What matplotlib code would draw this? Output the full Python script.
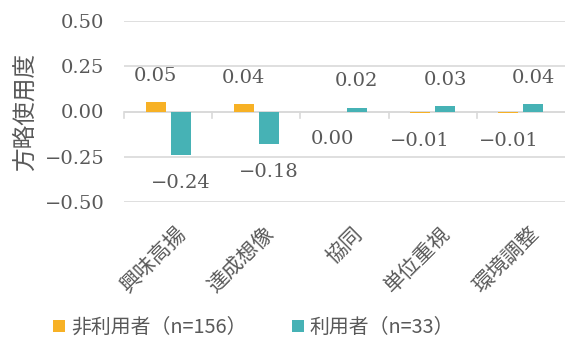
import matplotlib
matplotlib.use("Agg")
import matplotlib.pyplot as plt
import matplotlib.transforms as mtransforms
import numpy as np

plt.rcParams['font.family'] = ['Noto Sans CJK JP', 'DejaVu Sans']

categories = ["興味高揚", "達成想像", "協同", "単位重視", "環境調整"]
non_users = [0.05, 0.04, 0.00, -0.01, -0.01]
users = [-0.24, -0.18, 0.02, 0.03, 0.04]
series_names = ["非利用者（n=156）", "利用者（n=33）"]
y_ticks = [-0.50, -0.25, 0.00, 0.25, 0.50]

orange = "#F7B125"
teal = "#46B2B5"
text_col = "#595959"
grid_col = "#D9D9D9"
num_font = ["DejaVu Serif"]

fig = plt.figure(figsize=(5.66, 3.42), dpi=100)
ax = fig.add_axes([124 / 566, 1 - 202 / 342, 441 / 566, 181 / 342])

x = np.arange(len(categories))
w = 0.227
gap = 0.055
b1 = ax.bar(x - w / 2 - gap / 2, non_users, w, color=orange, label=series_names[0], zorder=3)
b2 = ax.bar(x + w / 2 + gap / 2, users, w, color=teal, label=series_names[1], zorder=3)

def fmt(v):
    s = f"{abs(v):.2f}"
    return ("\u2212" + s) if v < 0 else s

for bars, vals in ((b1, non_users), (b2, users)):
    for rect, v in zip(bars, vals):
        cx = rect.get_x() + rect.get_width() / 2
        off = 19 if v > 0 else -20
        ax.annotate(fmt(v), (cx, v), xytext=(0, off), textcoords="offset points",
                    ha="center", va="center", fontsize=14, color=text_col,
                    family=num_font)

ax.set_xlim(-0.5, len(categories) - 0.5)
ax.set_ylim(-0.5, 0.5)
ax.set_yticks(y_ticks)
ax.set_yticklabels([fmt(t) for t in y_ticks], fontsize=14, color=text_col,
                   family=num_font)
ax.tick_params(axis="y", length=0, pad=14)
ax.grid(axis="y", color=grid_col, linewidth=1.2, zorder=0)
for s in ax.spines.values():
    s.set_visible(False)

# zero baseline with tick marks between categories
ax.axhline(0, color=grid_col, linewidth=1.2, zorder=2)
for b in np.arange(-0.5, len(categories) - 0.5, 1.0):
    ax.plot([b, b], [0, -0.035], color=grid_col, linewidth=1.2, zorder=2, clip_on=False)

ax.set_xticks(x)
ax.set_xticklabels(categories, rotation=45, ha="right", rotation_mode="anchor",
                   fontsize=15, color=text_col)
ax.tick_params(axis="x", length=0, pad=15)
shift = mtransforms.ScaledTranslation(7 / 100, 0, fig.dpi_scale_trans)
for lbl in ax.get_xticklabels():
    lbl.set_transform(lbl.get_transform() + shift)

ax.set_ylabel("方略使用度", fontsize=17, color=text_col, labelpad=6)

fig.legend(handles=[b1, b2], labels=series_names, loc="lower left",
           bbox_to_anchor=(45 / 566, -0.012), ncol=2, frameon=False,
           fontsize=14.3, labelcolor=text_col, handlelength=0.6, handleheight=0.6,
           handletextpad=0.3, columnspacing=2.3, borderaxespad=0.0)

fig.savefig("out.png", dpi=100)
